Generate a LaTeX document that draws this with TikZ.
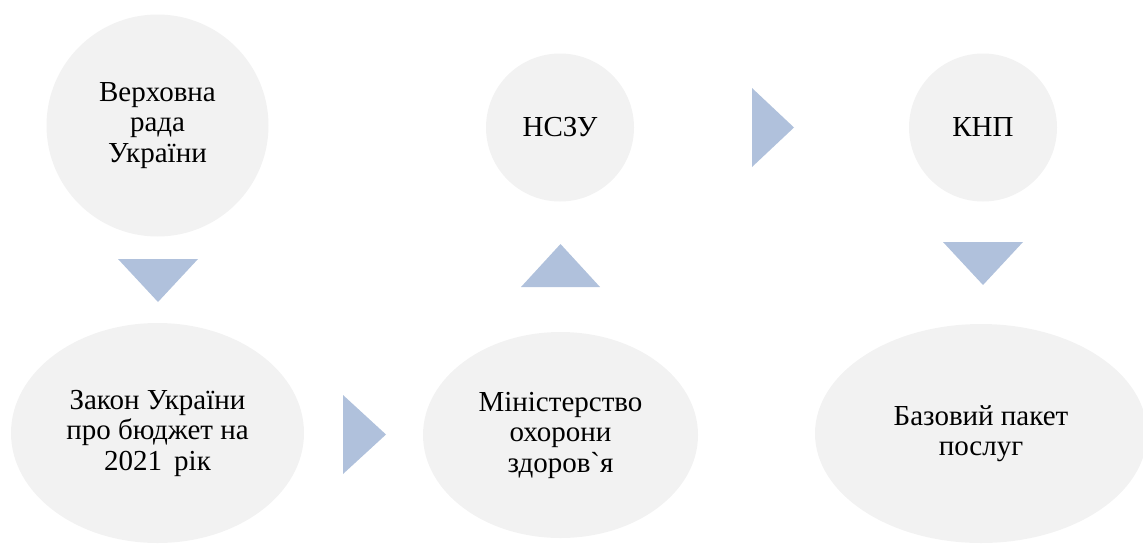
\documentclass[tikz,border=0pt]{standalone}
\usepackage{fontspec}
\setmainfont{Liberation Serif}[Ligatures=TeXOff]
\usetikzlibrary{shapes.geometric}
\definecolor{nodegray}{HTML}{F2F2F2}
\definecolor{arrowblue}{HTML}{B0C1DC}
\begin{document}
\begin{tikzpicture}[x=1pt,y=-1pt,
  lbl/.style={align=center,font=\fontsize{29}{30.5}\selectfont,text=black},
  circ/.style={circle,fill=nodegray,inner sep=0pt,lbl},
  ell/.style={ellipse,fill=nodegray,inner sep=0pt,lbl},
  tri/.style={fill=arrowblue}]
\useasboundingbox (0,0) rectangle (1143,544);
\node[circ,minimum size=222pt] (vr) at (157.5,125.5) {Верховна\\рада\\України};
\node[ell,minimum width=293pt,minimum height=220pt] (zak) at (157.5,433) {Закон України\\про бюджет на\\2021\, рік};
\node[ell,minimum width=275pt,minimum height=206pt] (moz) at (560.5,435) {Міністерство\\охорони\\здоров`я};
\node[circ,minimum size=148pt] (nszu) at (560,127.5) {НСЗУ};
\node[circ,minimum size=148pt] (knp) at (983,127.5) {КНП};
\node[ell,minimum width=332pt,minimum height=219pt] (bpp) at (981,433.5) {Базовий пакет\\послуг};
% arrows
\fill[tri] (118,259) -- (198,259) -- (158,302) -- cycle;
\fill[tri] (343,395) -- (386,434.5) -- (343,474) -- cycle;
\fill[tri] (521,287) -- (600,287) -- (560.5,244) -- cycle;
\fill[tri] (752,88) -- (794,127.5) -- (752,167) -- cycle;
\fill[tri] (943,242) -- (1023,242) -- (983,285) -- cycle;
\end{tikzpicture}
\end{document}
